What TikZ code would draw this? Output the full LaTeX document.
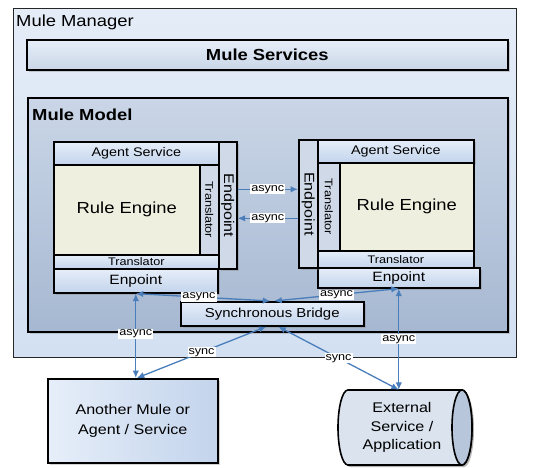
\documentclass[tikz,border=0pt]{standalone}
\usepackage{fontspec}
\setmainfont{Liberation Sans}[FakeStretch=1.15]
\usetikzlibrary{shapes.geometric,arrows.meta,shadows,calc}
\definecolor{arr}{HTML}{4A7EBB}
\definecolor{mgrTop}{HTML}{E4ECF7}
\definecolor{mgrBot}{HTML}{D2E0F2}
\definecolor{mdlTop}{HTML}{CAD6E7}
\definecolor{mdlBot}{HTML}{A6B8D1}
\definecolor{bxTop}{HTML}{E6EEF9}
\definecolor{bxBot}{HTML}{C3D4EC}
\definecolor{reFill}{HTML}{EFEFDF}
\definecolor{epFill}{HTML}{CFD9E8}
\definecolor{cylBody}{HTML}{DAE3EE}
\definecolor{cylEnd}{HTML}{B7C6DA}
\tikzset{
  box/.style={draw=black, line width=1.6pt, inner sep=0pt, anchor=north west,
              top color=bxTop, bottom color=bxBot},
  shd/.style={drop shadow={opacity=0.35, shadow xshift=2pt, shadow yshift=-2pt}},
  vbox/.style={box, top color=epFill, bottom color=epFill},
  rebox/.style={box, top color=reFill, bottom color=reFill},
  vtext/.style={rotate=-90, inner sep=0pt},
  conn/.style={draw=arr, line width=1.3pt, {Latex[length=7.5pt,width=6.5pt]}-{Latex[length=7.5pt,width=6.5pt]}},
  oneway/.style={draw=arr, line width=1.3pt, -{Latex[length=7.5pt,width=6.5pt]}},
  lab/.style={fill=white, inner sep=1pt, font=\fontsize{11}{12}\selectfont, text=black}
}
\begin{document}
\begin{tikzpicture}[x=1pt,y=-1pt]
\useasboundingbox (0,0) rectangle (533,468);
% Mule Manager
\node[box, draw=black!85, line width=1.3pt, top color=mgrTop, bottom color=mgrBot,
      minimum width=503pt, minimum height=349pt] (mgr) at (13,8) {};
\node[anchor=base west, inner sep=0pt, font=\fontsize{16}{18}\selectfont] (mgrlab) at (16,27) {Mule Manager};
% Mule Services
\node[box, shd, top color=bxTop, bottom color=mdlTop,
      minimum width=481pt, minimum height=30pt, font=\bfseries\fontsize{16}{18}\selectfont] (svc) at (26,39) {Mule Services};
% Mule Model
\node[box, shd, top color=mdlTop, bottom color=mdlBot, minimum width=480pt, minimum height=234pt] (mdl) at (27,97) {};
\node[anchor=base west, inner sep=0pt, font=\bfseries\fontsize{16}{18}\selectfont] (mdllab) at (32,121) {Mule Model};
% Left agent
\node[box, shd, minimum width=164pt, minimum height=24pt, font=\fontsize{13.5}{15}\selectfont] (lenp) at (53,268) {Enpoint};
\node[vbox, shd, minimum width=18pt, minimum height=127pt] (lend) at (218,141) {};
\node[box, minimum width=165pt, minimum height=23pt, font=\fontsize{12.5}{14}\selectfont] (las) at (53,141) {Agent Service};
\node[rebox, minimum width=146pt, minimum height=90pt, font=\fontsize{16}{18}\selectfont] (lre) at (53,164) {Rule Engine};
\node[vbox, minimum width=19pt, minimum height=90pt] (ltrv) at (199,164) {};
\node[box, minimum width=165pt, minimum height=14pt, font=\fontsize{11}{12}\selectfont] (ltrh) at (53,254) {Translator};
\node[vtext, font=\fontsize{14}{15}\selectfont] (lendt) at (lend.center) {Endpoint};
\node[vtext, font=\fontsize{11}{12}\selectfont] (ltrvt) at (ltrv.center) {Translator};
% Right agent
\node[box, shd, minimum width=162pt, minimum height=20pt, font=\fontsize{13.5}{15}\selectfont] (renp) at (317,267) {Enpoint};
\node[vbox, shd, minimum width=19pt, minimum height=128pt] (rend) at (298,139) {};
\node[box, shd, minimum width=156pt, minimum height=23pt, font=\fontsize{12.5}{14}\selectfont] (ras) at (317,139) {Agent Service};
\node[vbox, minimum width=22pt, minimum height=88pt] (rtrv) at (317,162) {};
\node[rebox, minimum width=134pt, minimum height=88pt, font=\fontsize{16}{18}\selectfont] (rre) at (339,162) {Rule Engine};
\node[box, minimum width=156pt, minimum height=17pt, font=\fontsize{11}{12}\selectfont] (rtrh) at (317,250) {Translator};
\node[vtext, font=\fontsize{14}{15}\selectfont] (rendt) at (rend.center) {Endpoint};
\node[vtext, font=\fontsize{11}{12}\selectfont] (rtrvt) at (rtrv.center) {Translator};
% Synchronous Bridge
\node[box, shd, minimum width=183pt, minimum height=24pt, font=\fontsize{13}{15}\selectfont] (brg) at (180,301) {Synchronous Bridge};
% Another Mule
\node[box, shd, left color=bxTop, right color=bxBot, minimum width=170pt, minimum height=84pt,
      align=center, font=\fontsize{14}{20}\selectfont] (amule) at (47,378) {Another Mule or\\Agent / Service};
% External (horizontal cylinder)
\fill[black, opacity=0.3] (350,392) -- (464,392) arc[start angle=90, end angle=-90, x radius=10pt, y radius=37.5pt]
   -- (350,467) arc[start angle=-90, end angle=-270, x radius=10pt, y radius=37.5pt] -- cycle;
\draw[line width=1.6pt, fill=cylBody] (348,390) -- (462,390) arc[start angle=90, end angle=-90, x radius=10pt, y radius=37.5pt]
   -- (348,465) arc[start angle=-90, end angle=-270, x radius=10pt, y radius=37.5pt] -- cycle;
\draw[line width=1.6pt, fill=cylEnd] (462,427.5) ellipse[x radius=10pt, y radius=37.5pt];
\node[align=center, inner sep=0pt, minimum height=75pt, font=\fontsize{14}{18.5}\selectfont] (ext) at (402,427.5) {External\\Service /\\Application};
% connectors
\coordinate (a1) at ([yshift=16pt]lend.east);
\coordinate (a2) at ([yshift=-13pt]lend.east);
\draw[oneway] (a1) -- (a1 -| rend.west) node[lab, midway] (l1) {async};
\draw[oneway] (a2 -| rend.west) -- (a2) node[lab, midway] (l2) {async};
\coordinate (bl) at ([xshift=-2pt]brg.north);
\coordinate (br) at ([xshift=2pt]brg.north);
\draw[conn] (lenp.south) -- (bl) node[lab, pos=0.47] (l3) {async};
\draw[conn] (renp.south) -- (br) node[lab, pos=0.5] (l4) {async};
\draw[conn] (lenp.south) -- (lenp.south |- amule.north) node[lab, pos=0.48] (l5) {async};
\coordinate (extin) at (renp.south |- ext.north);
\draw[conn] (renp.south) -- (extin) node[lab, pos=0.5] (l6) {async};
\coordinate (sl) at ([xshift=-6pt]brg.south);
\coordinate (sr) at ([xshift=6pt]brg.south);
\draw[conn] (sl) -- ([xshift=4pt]amule.north) node[lab, pos=0.5] (l7) {sync};
\draw[conn] (sr) -- (extin) node[lab, pos=0.5] (l8) {sync};
\end{tikzpicture}
\end{document}
